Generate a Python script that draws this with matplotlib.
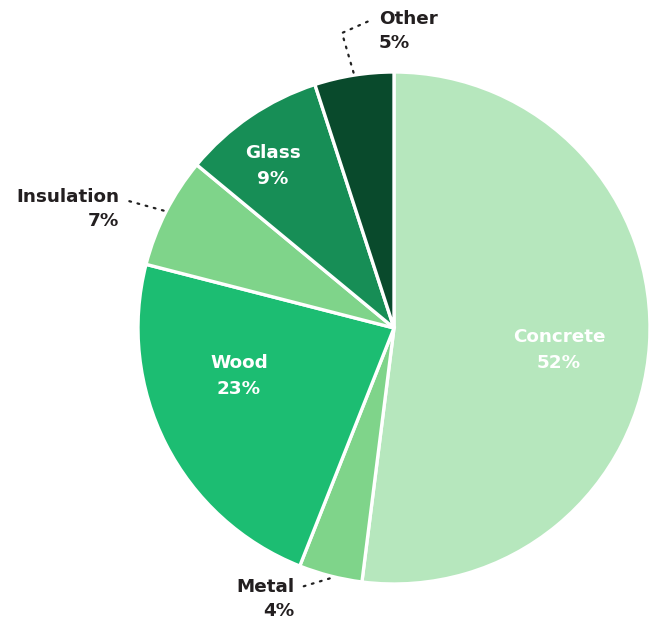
import numpy as np
import matplotlib.pyplot as plt

# Share of embodied carbon by material
materials = ['Concrete', 'Metal', 'Wood', 'Insulation', 'Glass', 'Other']
shares = [52, 4, 23, 7, 9, 5]
colors = ['#b6e7bd', '#7fd48a', '#1cbd72', '#7fd48a', '#178e56', '#094a2c']

W, H = 657, 624
cx, cy, r = 394, H - 328, 256

fig = plt.figure(figsize=(W / 100, H / 100), dpi=100)
ax = fig.add_axes([0, 0, 1, 1])

wedges, _ = ax.pie(shares, colors=colors, startangle=90, counterclock=False,
                   center=(cx, cy), radius=r, frame=True,
                   wedgeprops=dict(edgecolor='white', linewidth=2.4))
ax.set_xlim(0, W)
ax.set_ylim(0, H)
ax.set_aspect('equal')
ax.axis('off')

font = dict(family='DejaVu Sans', fontweight='bold', fontsize=13.2)

# labels inside the big slices
inside = {'Concrete': (559, 350), 'Wood': (239, 376), 'Glass': (273, 166)}
for name, (x, y) in inside.items():
    i = materials.index(name)
    ax.text(x, H - y, f'{name}\n{shares[i]}%', color='white', ha='center',
            va='center', linespacing=1.5, **font)


def edge_point(i):
    w = wedges[i]
    ang = np.deg2rad((w.theta1 + w.theta2) / 2)
    return cx + r * 1.01 * np.cos(ang), cy + r * 1.01 * np.sin(ang)


# callouts for the small slices
callouts = {
    'Other': ([(342, 33), (369, 21)], (379, 31), 'left'),
    'Insulation': ([(125, 200)], (119, 209), 'right'),
    'Metal': ([(298, 588)], (294, 599), 'right'),
}
for name, (path, (tx, ty), ha) in callouts.items():
    i = materials.index(name)
    x0, y0 = edge_point(i)
    xs = [x0] + [p[0] for p in path]
    ys = [y0] + [H - p[1] for p in path]
    ax.plot(xs, ys, color='#222222', linestyle=(0, (0.8, 3)), linewidth=1.6,
            dash_capstyle='round')
    ax.text(tx, H - ty, f'{name}\n{shares[i]}%', color='#231f20', ha=ha,
            va='center', multialignment=ha, linespacing=1.5, **font)

fig.savefig('out.png', dpi=100)
